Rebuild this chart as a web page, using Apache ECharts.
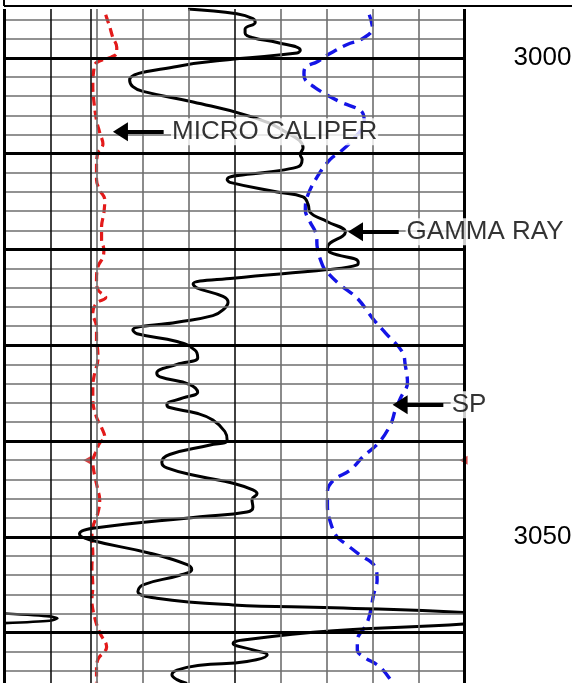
<!DOCTYPE html>
<html>
<head>
<meta charset="utf-8">
<script src="https://cdn.jsdelivr.net/npm/echarts@6/dist/echarts.min.js"></script>
<style>
html,body{margin:0;padding:0;background:#fff;overflow:hidden;}
#chart{width:572px;height:683px;}
</style>
</head>
<body>
<div id="chart"></div>
<script>
// Depth labels shown on the right
const depthLabels = [3000, 3050];
// Grid lines (track units 0..10, depth in feet)
const minorDepths = [];
for (let d = 2996; d <= 3064; d += 2) if (d % 10 !== 0) minorDepths.push(d);
const majorDepths = [3000, 3010, 3020, 3030, 3040, 3050, 3060];
const darkVerticals = [1, 1.87, 5];
const grayVerticals = [2, 3, 4, 6, 7, 8, 9];
const borderVerticals = [0, 10];

// Gamma ray curve [track units, depth]
const gammaRay = [
  [3.99,2994.9],[5.05,2995.4],[5.40,2995.9],[5.45,2996.3],[5.23,2997.0],[5.23,2997.4],[5.40,2997.9],
  [5.93,2998.4],[6.43,2999.2],[6.36,2999.5],[5.05,3000.1],[3.75,3000.9],[2.72,3002.3],[2.79,3003.0],
  [3.01,3003.5],[4.10,3004.6],[5.34,3006.1],[6.10,3007.7],[6.49,3009.4],[6.43,3010.1],[6.47,3010.6],
  [6.36,3011.4],[4.84,3012.7],[4.90,3013.0],[5.93,3014.0],[6.49,3014.5],[6.60,3015.3],[6.64,3016.1],
  [7.02,3017.1],[7.41,3018.2],[7.02,3019.8],[7.08,3020.3],[7.69,3021.3],[7.67,3021.6],[7.02,3022.1],
  [4.97,3023.0],[4.10,3023.6],[4.18,3024.0],[4.75,3024.9],[4.86,3025.5],[4.75,3026.3],[4.53,3026.9],
  [3.75,3027.6],[2.79,3028.4],[2.88,3028.8],[3.75,3029.6],[4.14,3030.5],[4.20,3031.3],[3.75,3032.0],
  [3.31,3032.9],[3.38,3033.3],[4.03,3034.1],[4.20,3034.9],[3.88,3035.5],[3.53,3036.2],[3.59,3036.5],
  [4.18,3037.1],[4.53,3037.8],[4.79,3039.0],[4.84,3039.9],[4.47,3040.4],[3.59,3041.4],[3.42,3042.2],
  [3.53,3042.8],[4.25,3043.7],[4.97,3044.4],[5.40,3045.1],[5.49,3045.5],[5.38,3046.1],[5.40,3046.9],
  [5.27,3047.4],[4.25,3047.9],[1.92,3049.1],[1.63,3049.7],[1.85,3050.3],[3.16,3051.7],[3.97,3052.9],
  [4.07,3053.4],[3.81,3054.0],[3.01,3055.0],[2.90,3055.7],[3.31,3056.4],[4.97,3057.1],[7.15,3057.4],
  [9.98,3057.9],[11.15,3058.5],[9.98,3059.1],[7.15,3059.8],[5.12,3060.8],[4.97,3061.1],[5.40,3061.8],
  [5.71,3062.3],[5.27,3063.0],[4.25,3063.4],[3.75,3063.9],[3.64,3064.4],[3.75,3064.9],[3.97,3065.3]
];
// Gamma ray wrap-around shown in the left track
const gammaWrap = [[0,3058.0],[0.98,3058.3],[1.15,3058.5],[0.98,3058.75],[0,3059.0]];

// Micro caliper curve
const microCaliper = [
  [2.20,2995.5],[2.22,2995.8],[2.29,2996.8],[2.35,2997.8],[2.44,2998.9],[2.44,2999.5],[2.33,2999.9],
  [2.00,3000.5],[1.94,3001.3],[1.92,3003.0],[1.94,3004.4],[2.00,3006.5],[2.07,3007.8],[2.14,3009.0],
  [2.03,3009.9],[2.00,3011.4],[2.00,3012.7],[2.07,3013.8],[2.18,3014.8],[2.16,3016.2],[2.11,3017.6],
  [2.11,3019.0],[2.16,3020.0],[2.14,3020.8],[2.03,3021.8],[2.00,3023.2],[2.03,3024.2],[2.20,3025.0],
  [2.00,3025.6],[1.92,3026.6],[2.00,3028.1],[2.00,3029.4],[2.03,3030.8],[2.03,3031.5],[1.96,3032.9],
  [1.92,3034.3],[1.92,3035.7],[2.00,3037.5],[2.11,3038.6],[2.18,3039.6],[2.07,3040.2],[1.98,3041.2],
  [1.92,3042.1],[1.94,3043.1],[2.03,3045.1],[2.07,3046.1],[2.03,3047.5],[1.92,3049.0],[1.90,3050.3],
  [1.92,3051.7],[1.90,3053.1],[1.92,3055.2],[1.90,3056.6],[1.96,3058.4],[2.07,3060.0],[2.22,3061.5],
  [2.03,3062.8],[2.00,3063.9],[2.00,3065.2]
];
const caliperMarks = [[1.80,3042.0],[9.98,3042.0]];

// SP curve
const spCurve = [
  [7.93,2995.5],[8.00,2996.9],[7.78,2998.0],[7.45,2998.6],[7.02,2999.7],[6.80,3000.4],[6.54,3001.0],
  [6.51,3001.7],[6.54,3002.3],[6.75,3003.1],[7.02,3003.9],[7.30,3004.6],[7.78,3005.7],[7.82,3006.7],
  [7.56,3008.6],[7.30,3009.8],[7.08,3010.6],[6.80,3012.4],[6.58,3014.5],[6.54,3015.9],[6.64,3017.1],
  [6.78,3018.5],[6.80,3019.8],[6.91,3021.6],[7.02,3022.4],[7.30,3023.7],[7.67,3025.1],[8.02,3027.3],
  [8.28,3028.7],[8.65,3030.7],[8.71,3032.0],[8.76,3033.9],[8.61,3035.5],[8.50,3036.7],[8.39,3038.3],
  [8.13,3040.2],[7.80,3041.6],[7.52,3043.0],[7.15,3044.1],[7.02,3045.3],[7.02,3046.7],[7.08,3048.4],
  [7.23,3050.0],[7.41,3050.7],[7.73,3051.9],[8.04,3053.0],[8.10,3054.5],[8.02,3056.1],[7.95,3057.9],
  [7.86,3059.2],[7.67,3060.8],[7.67,3061.8],[7.80,3062.5],[8.17,3063.6],[8.43,3065.2]
];

// Annotations: label, tail of arrow, tip of arrow, text anchor
const annotationNames = ['MICRO CALIPER', 'GAMMA RAY', 'SP'];
const annotationTails = [[3.46,3007.72],[8.57,3018.16],[9.54,3036.22]];
const annotationTips  = [[2.52,3007.72],[7.63,3018.16],[8.60,3036.22]];
const annotationText  = [[3.62,3007.72],[8.72,3018.16],[9.70,3036.22]];

const FONT = '"Liberation Sans", Arial, sans-serif';
const chart = echarts.init(document.getElementById('chart'), null, {renderer: 'canvas'});

const gridLines = [];
minorDepths.forEach(d => gridLines.push({yAxis: d, lineStyle: {color: '#6e6e6e', width: 1.6, type: 'solid'}}));
grayVerticals.forEach(u => gridLines.push({xAxis: u, lineStyle: {color: '#6e6e6e', width: 1.6, type: 'solid'}}));
darkVerticals.forEach(u => gridLines.push({xAxis: u, lineStyle: {color: '#111', width: 1.6, type: 'solid'}}));
majorDepths.forEach(d => gridLines.push({yAxis: d, lineStyle: {color: '#000', width: 3, type: 'solid'}}));
borderVerticals.forEach(u => gridLines.push({xAxis: u, lineStyle: {color: '#000', width: 3, type: 'solid'}}));

const arrowLines = annotationNames.map((n, i) => [
  {coord: annotationTails[i], symbol: 'none'},
  {coord: annotationTips[i], symbol: 'triangle', symbolSize: [19, 15]}
]);

chart.setOption({
  animation: false,
  backgroundColor: '#fff',
  grid: {left: 4.5, right: 107.5, top: 9, bottom: 0, containLabel: false, outerBoundsMode: 'none'},
  xAxis: {type: 'value', min: 0, max: 10, show: false},
  yAxis: [{
    type: 'value', inverse: true, min: 2994.9, max: 3065.25, position: 'right',
    axisLine: {show: false}, axisTick: {show: false}, splitLine: {show: false},
    axisLabel: {customValues: depthLabels, margin: 49, fontSize: 26, color: '#000', fontFamily: FONT,
                formatter: v => String(v)}
  }],
  graphic: [
    {type: 'line', shape: {x1: 4, y1: 6, x2: 572, y2: 6}, style: {stroke: '#000', lineWidth: 2}},
    {type: 'line', shape: {x1: 4, y1: 0, x2: 4, y2: 6}, style: {stroke: '#000', lineWidth: 2}}
  ],
  series: [
    {
      name: 'grid', type: 'line', data: [], z: 1, silent: true,
      markLine: {silent: true, symbol: 'none', label: {show: false}, animation: false, data: gridLines}
    },
    {
      name: 'Micro caliper', type: 'line', data: microCaliper, z: 3, smooth: 0.4, showSymbol: false,
      lineStyle: {color: '#e31a1a', width: 3.2, type: [9, 5]}
    },
    {
      name: 'caliper marks', type: 'scatter', data: caliperMarks, z: 3, clip: false,
      symbol: 'triangle', symbolRotate: 90, symbolSize: [9, 8], itemStyle: {color: '#c81414'}
    },
    {
      name: 'SP', type: 'line', data: spCurve, z: 3, smooth: 0.4, showSymbol: false,
      lineStyle: {color: '#1414e6', width: 3.4, type: [12, 7]}
    },
    {
      name: 'Gamma ray', type: 'line', data: gammaRay, z: 4, smooth: 0.45, showSymbol: false,
      lineStyle: {color: '#000', width: 3}
    },
    {
      name: 'Gamma ray wrap', type: 'line', data: gammaWrap, z: 4, smooth: 0.2, showSymbol: false,
      lineStyle: {color: '#000', width: 2.6}
    },
    {
      name: 'annotations', type: 'scatter', z: 6, clip: false, symbolSize: 0,
      data: annotationNames.map((n, i) => ({name: n, value: annotationText[i]})),
      label: {
        show: true, position: 'right', distance: 0, formatter: '{b}',
        fontSize: 26, color: '#000', fontFamily: FONT,
        backgroundColor: '#fff', padding: [1, 1, 0, 1]
      },
      markLine: {
        silent: true, animation: false, label: {show: false},
        lineStyle: {color: '#000', width: 4, type: 'solid'},
        itemStyle: {color: '#000'},
        data: arrowLines
      }
    }
  ]
});
</script>
</body>
</html>
